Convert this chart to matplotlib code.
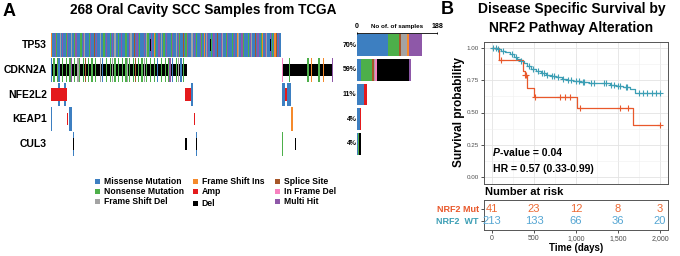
import matplotlib
matplotlib.use('Agg')
import matplotlib.pyplot as plt
from matplotlib.patches import Rectangle
import numpy as np

plt.rcParams['font.family'] = ['Liberation Sans', 'DejaVu Sans']
NARROW = ['Liberation Sans Narrow', 'Liberation Sans', 'DejaVu Sans']

# ---------------- data: oncoplot (panel A) ----------------
genes = ['TP53', 'CDKN2A', 'NFE2L2', 'KEAP1', 'CUL3']
pct_labels = ['70%', '59%', '11%', '4%', '4%']
n_cols = 231  # altered samples shown

colors = {
    'Missense_Mutation': '#3D7FC1',
    'Nonsense_Mutation': '#4DAF4A',
    'Frame_Shift_Del': '#A3A3A3',
    'Frame_Shift_Ins': '#F58A2C',
    'Amp': '#E41A1C',
    'Del': '#000000',
    'Splice_Site': '#A65628',
    'In_Frame_Del': '#F781BF',
    'Multi_Hit': '#8E58A8',
}
codes = {'M': 'Missense_Mutation', 'N': 'Nonsense_Mutation', 'D': 'Frame_Shift_Del',
         'I': 'Frame_Shift_Ins', 'S': 'Splice_Site', 'F': 'In_Frame_Del', 'H': 'Multi_Hit'}

# TP53: one code per column (first 188 columns)
tp53_mut = ("IMMHNMMDMH" "MMNHMMDMMN" "HMMMNMHDMM" "MNHMMSMHMM" "DMMNMHMMNM"
            "HMDMMNMHMM" "MNMMHDMMSM" "HMNMMMHMDN" "MMHMINMMHM" "DMNMHMMMNH"
            "MMDMHNMMSM" "NHMMMDMHMN" "MMHNMIMDHM" "MNMHMMSMMH" "DMMNHMMMNM"
            "HMIDMMHNMM" "MNMHDMMSMH" "MMNIMHDMMH" "MNMISMHM")
tp53_cnv = {'Del': [(81, 82), (130, 131), (179, 180)]}

cdkn2a_mut = {
    'Missense_Mutation': [0, 6, 42, 87, 99, 106],
    'Nonsense_Mutation': [2, 5, 9, 12, 15, 19, 23, 26, 30, 33, 36, 45, 48, 52, 55, 58,
                          61, 64, 67, 71, 74, 78, 81, 84, 90, 93, 96, 102, 108, 195, 210, 219],
    'Frame_Shift_Del': [21, 22, 40, 50, 62, 76, 104],
    'Frame_Shift_Ins': [213, 223],
    'Splice_Site': [28, 69],
    'In_Frame_Del': [189],
    'Multi_Hit': [16, 97, 230],
}
cdkn2a_cnv = {'Del': [(0, 111), (189, 231)]}

nfe2l2_mut = {'Missense_Mutation': [6, 11, 115, 189, 190, 191, 193, 194, 195, 196]}
nfe2l2_cnv = {'Amp': [(0, 13), (110, 115), (192, 193)]}

keap1_mut = {'Missense_Mutation': [0, 15, 16], 'Frame_Shift_Ins': [197]}
keap1_cnv = {'Amp': [(13, 14), (117, 118)]}

cul3_mut = {'Missense_Mutation': [18, 119], 'Nonsense_Mutation': [189]}
cul3_cnv = {'Del': [(18, 19), (110, 111), (119, 120), (200, 201)]}

# bar panel: number of samples per alteration type
bar_types = ['Missense_Mutation', 'Nonsense_Mutation', 'Splice_Site', 'Frame_Shift_Del',
             'Frame_Shift_Ins', 'In_Frame_Del', 'Amp', 'Del', 'Multi_Hit']
bar_counts = {
    'TP53':   [90, 31, 6, 17, 6, 0, 0, 0, 38],
    'CDKN2A': [12, 31, 5, 4, 0, 5, 0, 95, 6],
    'NFE2L2': [19, 0, 0, 0, 0, 0, 11, 0, 0],
    'KEAP1':  [8, 0, 0, 0, 0, 0, 3, 0, 0],
    'CUL3':   [3, 3, 0, 0, 0, 0, 0, 5, 0],
}
bar_max_label = '188'

legend_cols = [['Missense_Mutation', 'Nonsense_Mutation', 'Frame_Shift_Del'],
               ['Frame_Shift_Ins', 'Amp', 'Del'],
               ['Splice_Site', 'In_Frame_Del', 'Multi_Hit']]

# ---------------- data: survival (panel B) ----------------
wt_time = [0, 60, 110, 160, 210, 260, 300, 340, 380, 420, 470, 520, 580, 640, 700, 760,
           830, 890, 960, 1050, 1150, 1280, 1400, 1480, 1560, 1640, 1700, 2000]
wt_surv = [1.0, 0.99, 0.98, 0.965, 0.95, 0.933, 0.915, 0.9, 0.88, 0.86, 0.84, 0.822,
           0.806, 0.792, 0.782, 0.773, 0.762, 0.752, 0.742, 0.735, 0.73, 0.725, 0.713,
           0.705, 0.695, 0.68, 0.648, 0.648]
wt_censor = [15, 45, 75, 130, 240, 280, 350, 440, 490, 550, 600, 620, 660, 720, 740, 790,
             850, 910, 940, 1000, 1030, 1080, 1100, 1180, 1210, 1330, 1360, 1420, 1450,
             1500, 1520, 1590, 1610, 1750, 1800, 1850, 1900, 1950, 2000]

mut_time = [0, 87, 373, 390, 420, 500, 1008, 1683, 2000]
mut_surv = [1.0, 0.907, 0.82, 0.79, 0.69, 0.62, 0.532, 0.403, 0.403]
mut_censor = [110, 395, 405, 515, 810, 870, 925, 1048, 1524, 1623, 2000]

risk_times = [0, 500, 1000, 1500, 2000]
risk_mut = [41, 23, 12, 8, 3]
risk_wt = [213, 133, 66, 36, 20]

c_mut = '#E9582B'
c_wt = '#3D9FB5'
c_mut_txt = '#EC6A35'
c_wt_txt = '#55A6D3'

# ---------------- figure ----------------
W, H = 680, 256
fig = plt.figure(figsize=(W / 100, H / 100), dpi=100)


def add_ax(x0, y0, x1, y1):
    return fig.add_axes([x0 / W, 1 - y1 / H, (x1 - x0) / W, (y1 - y0) / H])


def ftext(x, y, s, **kw):
    return fig.text(x / W, 1 - y / H, s, **kw)


# ---- panel A: oncoplot ----
ax = add_ax(51, 33, 333, 156)
ax.set_xlim(0, n_cols)
ax.set_ylim(len(genes), 0)
ax.axis('off')


def draw_mut(row, cols, kind):
    ax.bar(np.array(cols) + 0.5, 0.96, width=1.0, bottom=row + 0.02,
           color=colors[kind], linewidth=0)


def draw_cnv(row, runs, kind):
    for a, b in runs:
        ax.bar((a + b) / 2, 0.5, width=b - a, bottom=row + 0.25,
               color=colors[kind], linewidth=0)


# TP53
for code in codes:
    cols = [i for i, ch in enumerate(tp53_mut) if ch == code]
    if cols:
        draw_mut(0, cols, codes[code])
for kind, runs in tp53_cnv.items():
    draw_cnv(0, runs, kind)

# CDKN2A: mutation lines over the deletion band
for kind, runs in cdkn2a_cnv.items():
    draw_cnv(1, runs, kind)
for kind, cols in cdkn2a_mut.items():
    draw_mut(1, cols, kind)

# the others: small CNV box on top of mutation cell
for row, muts, cnvs in [(2, nfe2l2_mut, nfe2l2_cnv), (3, keap1_mut, keap1_cnv),
                        (4, cul3_mut, cul3_cnv)]:
    for kind, cols in muts.items():
        draw_mut(row, cols, kind)
    for kind, runs in cnvs.items():
        draw_cnv(row, runs, kind)

for i, g in enumerate(genes):
    ax.text(-3.5, i + 0.5, g, ha='right', va='center', fontsize=7.5, weight='bold')

# ---- panel A: bar plot ----
axb = add_ax(357, 33, 437, 156)
axb.set_xlim(0, 232)
axb.set_ylim(len(genes), 0)
for i, g in enumerate(genes):
    left = 0
    for kind, n in zip(bar_types, bar_counts[g]):
        if n:
            axb.barh(i + 0.5, n, left=left, height=0.88, color=colors[kind], linewidth=0)
            left += n
    axb.text(-1.5, i + 0.5, pct_labels[i], ha='right', va='center', fontsize=5, weight='bold')
for s in ['right', 'bottom', 'left']:
    axb.spines[s].set_visible(False)
axb.spines['top'].set_linewidth(0.6)
axb.xaxis.tick_top()
axb.set_xticks([0, 232])
axb.set_xticklabels(['0', bar_max_label], fontsize=5, weight='bold')
axb.tick_params(axis='x', length=2, width=0.6, pad=1, direction='inout')
axb.set_yticks([])
axb.text(116, -0.18, 'No of. of samples', ha='center', va='bottom', fontsize=4.5, weight='bold')

# ---- legend ----
axl = add_ax(90, 174, 340, 210)
axl.set_xlim(90, 340)
axl.set_ylim(210, 174)
axl.axis('off')
leg_x = [95, 193, 275]
leg_y = [181, 191, 201]
for cx, col in zip(leg_x, legend_cols):
    for cy, kind in zip(leg_y, col):
        dy = 2 if kind == 'Del' else 0
        axl.add_patch(Rectangle((cx, cy - 2.5 + dy), 5, 5, color=colors[kind], linewidth=0))
        axl.text(cx + 8.5, cy + dy, kind.replace('_', ' '), ha='left', va='center',
                 fontsize=6.2, weight='bold')

ftext(3, 11, 'A', fontsize=13, weight='bold', ha='left', va='center')
ftext(203, 10, '268 Oral Cavity SCC Samples from TCGA', fontsize=9.8, weight='bold',
      ha='center', va='center')

# ---- panel B: Kaplan-Meier ----
axk = add_ax(483.6, 41.5, 668.4, 183.5)
axk.set_xlim(-100, 2100)
axk.set_ylim(-0.05, 1.05)
axk.set_xticks([0, 500, 1000, 1500, 2000])
axk.set_xticks([250, 750, 1250, 1750], minor=True)
axk.set_yticks([0, 0.25, 0.5, 0.75, 1.0])
axk.set_yticks([0.125, 0.375, 0.625, 0.875], minor=True)
axk.set_yticklabels(['0.00', '0.25', '0.50', '0.75', '1.00'], fontsize=4.5, color='#4D4D4D',
                    family=NARROW)
axk.set_xticklabels([])
axk.tick_params(axis='x', which='both', length=0)
axk.tick_params(axis='y', which='major', length=2, width=0.6, pad=1.2, color='#333333')
axk.tick_params(axis='y', which='minor', length=0)
axk.grid(True, which='major', color='#E3E3E3', linewidth=0.6)
axk.grid(True, which='minor', color='#EFEFEF', linewidth=0.4)
axk.set_axisbelow(True)
for s in axk.spines.values():
    s.set_color('#555555')
    s.set_linewidth(0.7)


def surv_at(times, surv, t):
    idx = np.searchsorted(times, t, side='right') - 1
    return np.array(surv)[idx]


axk.step(wt_time, wt_surv, where='post', color=c_wt, lw=0.9)
axk.step(mut_time, mut_surv, where='post', color=c_mut, lw=0.9)
axk.plot(wt_censor, surv_at(wt_time, wt_surv, wt_censor), '+', color=c_wt, ms=4, mew=0.8)
axk.plot(mut_censor, surv_at(mut_time, mut_surv, mut_censor), '+', color=c_mut, ms=4, mew=0.8)

tp = axk.text(12, 0.186, 'P', ha='left', va='center', fontsize=7.5, weight='bold',
              style='italic', family=NARROW)
axk.annotate('-value = 0.04', xy=(1, 0.5), xycoords=tp, ha='left', va='center',
             fontsize=7.5, weight='bold', family=NARROW)
axk.text(12, 0.062, 'HR = 0.57 (0.33-0.99)', ha='left', va='center', fontsize=7.5,
         weight='bold', family=NARROW)

ftext(459, 112, 'Survival probability', rotation=90, ha='center', va='center',
      fontsize=8.5, weight='bold')
ftext(441, 10, 'B', fontsize=13, weight='bold', ha='left', va='center')
ftext(572, 9, 'Disease Specific Survival by', fontsize=10, weight='bold', ha='center', va='center')
ftext(571, 28, 'NRF2 Pathway Alteration', fontsize=10, weight='bold', ha='center', va='center')

# ---- risk table ----
axr = add_ax(483.6, 200, 668.4, 230)
axr.set_xlim(-100, 2100)
axr.set_ylim(0, 1)
for t, m, w in zip(risk_times, risk_mut, risk_wt):
    axr.text(t, 0.7, str(m), ha='center', va='center', fontsize=8, color=c_mut_txt, family=NARROW)
    axr.text(t, 0.3, str(w), ha='center', va='center', fontsize=8, color=c_wt_txt, family=NARROW)
axr.set_xticks(risk_times)
axr.set_xticklabels(['0', '500', '1,000', '1,500', '2,000'], fontsize=5, color='#4D4D4D',
                    family=NARROW)
axr.set_yticks([0.7, 0.3])
axr.set_yticklabels(['NRF2 Mut', 'NRF2  WT'], fontsize=6.5, weight='bold', family=NARROW)
for lab, c in zip(axr.get_yticklabels(), [c_mut, c_wt]):
    lab.set_color(c)
axr.tick_params(length=2, width=0.6, pad=1.5, color='#333333')
for s in axr.spines.values():
    s.set_color('#555555')
    s.set_linewidth(0.7)

ftext(485, 192, 'Number at risk', fontsize=8, weight='bold', ha='left', va='center', family=NARROW)
ftext(576, 248, 'Time (days)', fontsize=7, weight='bold', ha='center', va='center', family=NARROW)

fig.savefig('out.png', dpi=100)
